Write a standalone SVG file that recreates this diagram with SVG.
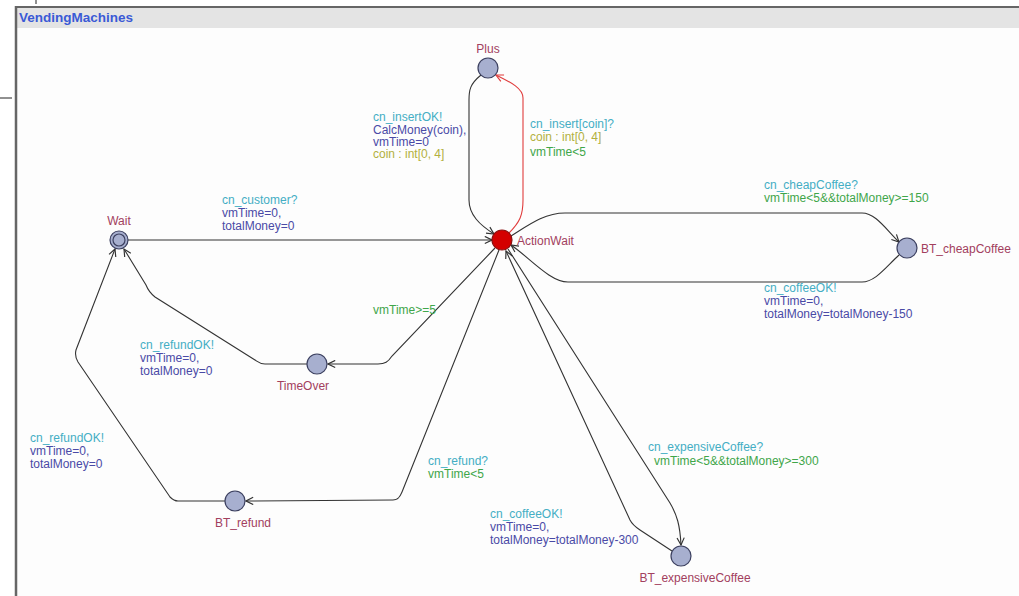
<svg xmlns="http://www.w3.org/2000/svg" width="1019" height="596" viewBox="0 0 1019 596">
<defs>
<marker id="arr" viewBox="0 0 10 10" refX="9" refY="5" markerWidth="9" markerHeight="9" orient="auto" markerUnits="userSpaceOnUse">
<path d="M1,1 L9,5 L1,9" fill="none" stroke="#333" stroke-width="1.3"/>
</marker>
<marker id="arrR" viewBox="0 0 10 10" refX="9" refY="5" markerWidth="9" markerHeight="9" orient="auto" markerUnits="userSpaceOnUse">
<path d="M1,1 L9,5 L1,9" fill="none" stroke="#e03c3c" stroke-width="1.3"/>
</marker>
<style>
text{font-family:"Liberation Sans",Arial,sans-serif;font-size:12px}
.st{fill:#a2405e}
.sy{fill:#44aec4}
.as{fill:#4a4aa6}
.gu{fill:#3fa64a}
.se{fill:#b2b040}
.e{fill:none;stroke:#333;stroke-width:1.1;marker-end:url(#arr)}
.er{fill:none;stroke:#e03c3c;stroke-width:1.1;marker-end:url(#arrR)}
.n{fill:#a7afcf;stroke:#3c4060;stroke-width:1.2}
</style>
</defs>
<rect x="0" y="0" width="1019" height="596" fill="#ffffff"/>
<line x1="36" y1="0" x2="36" y2="4" stroke="#222" stroke-width="1"/>
<line x1="0" y1="98" x2="12" y2="98" stroke="#222" stroke-width="1"/>
<rect x="16" y="7" width="1003" height="589" fill="#fdfdfd"/>
<rect x="17" y="8" width="1002" height="20" fill="#e4e4e4"/>
<line x1="16" y1="7" x2="1019" y2="7" stroke="#666" stroke-width="2"/>
<line x1="16" y1="6" x2="16" y2="596" stroke="#666" stroke-width="2.5"/>
<text x="19" y="22" style="font-size:13.5px;font-weight:bold;fill:#3a5ad6">VendingMachines</text>

<g id="connectors">
<path class="e" d="M128,240 L492,240"/>
<path class="er" d="M509,233 C520,222 523,215 523,200 L523,98 C523,88 510,82 496,75"/>
<path class="e" d="M481,75 C470,84 469,90 469,100 L469,200 C469,215 480,225 494,234"/>
<path class="e" d="M511,236 C530,224 545,213 565,213 L862,213 C875,213 885,228 899,242"/>
<path class="e" d="M899,255 C885,268 875,282 862,282 L568,282 C550,282 530,258 511,245"/>
<path class="e" d="M495,248 L392,356 C388,362 385,364 378,364 L328,364"/>
<path class="e" d="M307,364 L265,364 C260,364 258,362 255,360 L155,297 C150,293 148,290 146,285 L124,249"/>
<path class="e" d="M499,250 L402,492 C400,497 398,500 393,500 L246,501"/>
<path class="e" d="M225,501 L178,501 C174,501 172,499 170,497 L78,362 C75,357 75,354 76,350 L115,249"/>
<path class="e" d="M508,249 L670,503 C677,515 680,525 681,545"/>
<path class="e" d="M672,551 L640,530 C634,526 632,524 630,520 L506,251"/>
</g>

<g id="labels">
<text x="222" y="204" class="sy">cn_customer?</text>
<text x="222" y="217" class="as">vmTime=0,</text>
<text x="222" y="230" class="as">totalMoney=0</text>

<text x="530" y="128" class="sy">cn_insert[coin]?</text>
<text x="530" y="141" class="se">coin : int[0, 4]</text>
<text x="530" y="156" class="gu">vmTime&lt;5</text>

<text x="373" y="121" class="sy">cn_insertOK!</text>
<text x="373" y="134" class="as">CalcMoney(coin),</text>
<text x="373" y="146" class="as">vmTime=0</text>
<text x="373" y="158" class="se">coin : int[0, 4]</text>

<text x="764" y="189" class="sy">cn_cheapCoffee?</text>
<text x="764" y="202" class="gu">vmTime&lt;5&amp;&amp;totalMoney&gt;=150</text>

<text x="764" y="292" class="sy">cn_coffeeOK!</text>
<text x="764" y="305" class="as">vmTime=0,</text>
<text x="764" y="318" class="as">totalMoney=totalMoney-150</text>

<text x="373" y="314" class="gu">vmTime&gt;=5</text>

<text x="140" y="349" class="sy">cn_refundOK!</text>
<text x="140" y="362" class="as">vmTime=0,</text>
<text x="140" y="375" class="as">totalMoney=0</text>

<text x="428" y="465" class="sy">cn_refund?</text>
<text x="428" y="478" class="gu">vmTime&lt;5</text>

<text x="30" y="442" class="sy">cn_refundOK!</text>
<text x="30" y="455" class="as">vmTime=0,</text>
<text x="30" y="468" class="as">totalMoney=0</text>

<text x="648" y="451" class="sy">cn_expensiveCoffee?</text>
<text x="654" y="465" class="gu">vmTime&lt;5&amp;&amp;totalMoney&gt;=300</text>

<text x="490" y="518" class="sy">cn_coffeeOK!</text>
<text x="490" y="531" class="as">vmTime=0,</text>
<text x="490" y="544" class="as">totalMoney=totalMoney-300</text>
</g>

<g id="node-Plus">
<circle class="n" cx="488" cy="68" r="10"/>
<text x="488" y="53" class="st" text-anchor="middle">Plus</text>
</g>
<g id="node-Wait">
<circle class="n" cx="119" cy="240" r="9"/>
<circle class="n" cx="119" cy="240" r="6"/>
<text x="119" y="225" class="st" text-anchor="middle">Wait</text>
</g>
<g id="node-ActionWait">
<circle cx="502" cy="240" r="10" fill="#d40000" stroke="#8a1010" stroke-width="1.2"/>
<text x="517" y="245" class="st">ActionWait</text>
</g>
<g id="node-BT_cheapCoffee">
<circle class="n" cx="907" cy="248" r="10"/>
<text x="921" y="253" class="st">BT_cheapCoffee</text>
</g>
<g id="node-TimeOver">
<circle class="n" cx="317" cy="364" r="10"/>
<text x="303" y="390" class="st" text-anchor="middle">TimeOver</text>
</g>
<g id="node-BT_refund">
<circle class="n" cx="235" cy="501" r="10"/>
<text x="243" y="527" class="st" text-anchor="middle">BT_refund</text>
</g>
<g id="node-BT_expensiveCoffee">
<circle class="n" cx="681" cy="556" r="10"/>
<text x="695" y="582" class="st" text-anchor="middle">BT_expensiveCoffee</text>
</g>
</svg>
